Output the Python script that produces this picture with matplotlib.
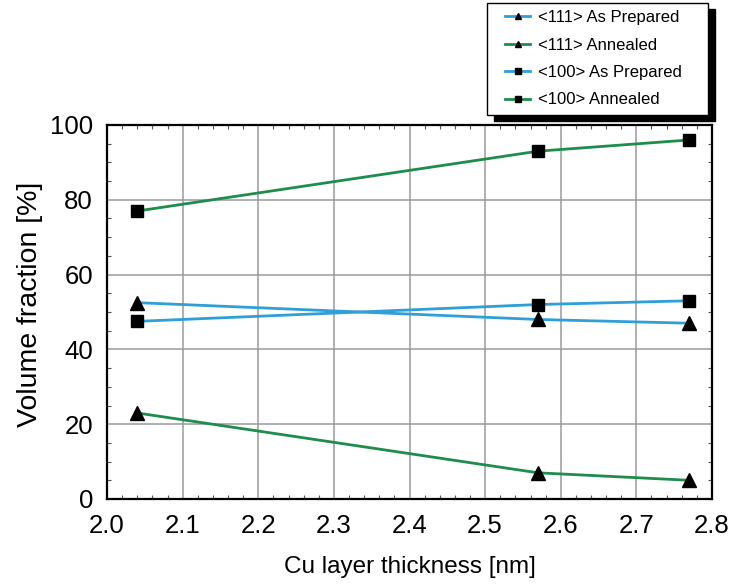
import matplotlib
matplotlib.use("Agg")
import matplotlib.pyplot as plt
from matplotlib.patches import Rectangle
from matplotlib.ticker import MultipleLocator

plt.rcParams['font.family'] = ['Liberation Sans', 'DejaVu Sans']

thickness = [2.04, 2.57, 2.77]
v111_prepared = [52.5, 48.0, 47.0]
v111_annealed = [23.0, 7.0, 5.0]
v100_prepared = [47.5, 52.0, 53.0]
v100_annealed = [77.0, 93.0, 96.0]

series_labels = ["<111> As Prepared", "<111> Annealed",
                 "<100> As Prepared", "<100> Annealed"]
x_ticks = [2.0, 2.1, 2.2, 2.3, 2.4, 2.5, 2.6, 2.7, 2.8]
y_ticks = [0, 20, 40, 60, 80, 100]

blue = "#2f9fd8"
green = "#1d8c4c"
W, H = 732, 587

fig = plt.figure(figsize=(W / 100, H / 100), dpi=100)
ax = fig.add_axes([107 / W, 1 - 499 / H, 605 / W, 374 / H])

ax.plot(thickness, v111_prepared, color=blue, lw=2, marker='^', ms=10,
        mfc='black', mec='black', label=series_labels[0], zorder=3)
ax.plot(thickness, v111_annealed, color=green, lw=2, marker='^', ms=10,
        mfc='black', mec='black', label=series_labels[1], zorder=3)
ax.plot(thickness, v100_prepared, color=blue, lw=2, marker='s', ms=8,
        mfc='black', mec='black', label=series_labels[2], zorder=3)
ax.plot(thickness, v100_annealed, color=green, lw=2, marker='s', ms=8,
        mfc='black', mec='black', label=series_labels[3], zorder=3)

ax.set_xlim(2.0, 2.8)
ax.set_ylim(0, 100)
ax.set_xticks(x_ticks)
ax.set_xticklabels([f"{t:.1f}" for t in x_ticks])
ax.set_yticks(y_ticks)
ax.xaxis.set_minor_locator(MultipleLocator(0.02))
ax.yaxis.set_minor_locator(MultipleLocator(5))
ax.tick_params(which='both', direction='in', top=True, right=True,
               labelsize=18.5)
ax.tick_params(axis='x', which='major', length=0, pad=11)
ax.tick_params(axis='y', which='major', length=0, pad=10)
ax.tick_params(which='minor', length=3, width=0.8, color='#555555')
ax.grid(True, which='major', color='#9a9a9a', lw=1.1)
for s in ax.spines.values():
    s.set_linewidth(1.6)

ax.set_xlabel("Cu layer thickness [nm]", fontsize=17.5, labelpad=13)
ax.set_ylabel("Volume fraction [%]", fontsize=20.5)
ax.yaxis.set_label_coords(-0.106, 0.52)

# legend box with a solid drop shadow, placed above the plot area
box_x0, box_x1 = 487 / W, 708 / W
box_y0, box_y1 = 1 - 115 / H, 1 - 3 / H
sx, sy = 7 / W, 6 / H
fig.patches.append(Rectangle((box_x0 + sx, box_y0 - sy), box_x1 - box_x0,
                             box_y1 - box_y0, transform=fig.transFigure,
                             facecolor='black', edgecolor='black', zorder=1))
fig.patches.append(Rectangle((box_x0, box_y0), box_x1 - box_x0,
                             box_y1 - box_y0, transform=fig.transFigure,
                             facecolor='white', edgecolor='black', lw=1.0,
                             zorder=2))

handles, labels = ax.get_legend_handles_labels()
leg = fig.legend(handles, labels, loc='upper left',
                 bbox_to_anchor=(500 / W, 1 - 5 / H), fontsize=12,
                 frameon=False, handlelength=1.5, markerscale=0.5,
                 labelspacing=0.75, borderpad=0.3, borderaxespad=0,
                 handletextpad=0.45)
leg.set_zorder(3)

fig.savefig("out.png", dpi=100)
